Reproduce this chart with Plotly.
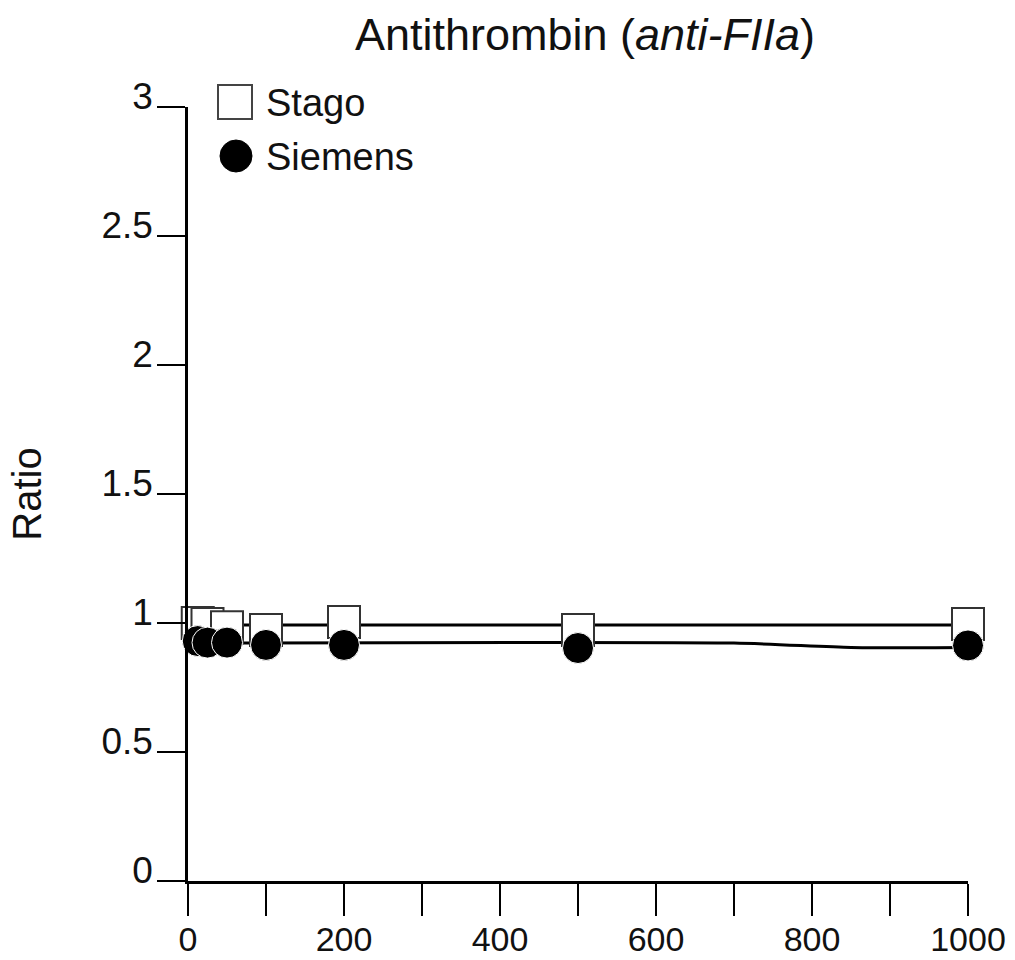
import plotly.graph_objects as go

# ---- data ----
stago_x = [12.5, 25, 50, 100, 200, 500, 1000]
stago_y = [1.00, 0.996, 0.984, 0.973, 1.004, 0.973, 0.996]
siemens_x = [12.5, 25, 50, 100, 200, 500, 1000]
siemens_y = [0.93, 0.924, 0.924, 0.915, 0.915, 0.903, 0.913]

stago_fit_x = [0, 1000]
stago_fit_y = [0.992, 0.992]
siemens_fit_x = [0, 700, 850, 1000]
siemens_fit_y = [0.922, 0.922, 0.905, 0.905]

x_tick_vals = [0, 100, 200, 300, 400, 500, 600, 700, 800, 900, 1000]
x_tick_text = ["0", "", "200", "", "400", "", "600", "", "800", "", "1000"]
y_tick_vals = [0, 0.5, 1, 1.5, 2, 2.5, 3]
y_tick_text = ["0", "0.5", "1", "1.5", "2", "2.5", "3"]

series_names = ["Stago", "Siemens"]
title_html = "Antithrombin (<i>anti-FIIa</i>)"
y_title = "Ratio"

# ---- layout geometry (pixels) ----
W, H = 1015, 960
L, R, T, B = 188, 47, 107, 79
PW, PH = W - L - R, H - T - B

def px(xp):
    return (xp - L) / PW

def py(yp):
    return (H - B - yp) / PH

FONT = "Liberation Sans, Arial, sans-serif"

fig = go.Figure()

fig.add_trace(go.Scatter(x=stago_fit_x, y=stago_fit_y, mode="lines",
                         line=dict(color="black", width=3), showlegend=False,
                         hoverinfo="skip"))
fig.add_trace(go.Scatter(x=siemens_fit_x, y=siemens_fit_y, mode="lines",
                         line=dict(color="black", width=3, shape="spline", smoothing=0.6),
                         showlegend=False, hoverinfo="skip"))
fig.add_trace(go.Scatter(x=stago_x, y=stago_y, mode="markers", name=series_names[0],
                         marker=dict(symbol="square", size=32, color="white",
                                     line=dict(color="#333333", width=2)),
                         cliponaxis=False, showlegend=False))
fig.add_trace(go.Scatter(x=siemens_x, y=siemens_y, mode="markers", name=series_names[1],
                         marker=dict(symbol="circle", size=31, color="black",
                                     line=dict(color="white", width=1)),
                         cliponaxis=False, showlegend=False))

# custom legend (large symbols like the reference)
fig.add_shape(type="rect", xref="paper", yref="paper",
              x0=px(218), x1=px(252), y0=py(119), y1=py(85),
              line=dict(color="#444444", width=2), fillcolor="white")
fig.add_shape(type="circle", xref="paper", yref="paper",
              x0=px(220), x1=px(252), y0=py(172), y1=py(140),
              line=dict(color="black", width=1), fillcolor="black")
fig.add_annotation(x=px(264), y=py(103), xref="paper", yref="paper",
                   text=series_names[0], showarrow=False, xanchor="left", yanchor="middle",
                   font=dict(family=FONT, size=38, color="#111111"))
fig.add_annotation(x=px(264), y=py(157), xref="paper", yref="paper",
                   text=series_names[1], showarrow=False, xanchor="left", yanchor="middle",
                   font=dict(family=FONT, size=38, color="#111111"))

fig.update_layout(
    width=W, height=H,
    margin=dict(l=L, r=R, t=T, b=B, pad=0, autoexpand=False),
    paper_bgcolor="white", plot_bgcolor="white",
    title=dict(text=title_html, x=px(585), xanchor="center", xref="paper",
               y=1 - 34 / H, yref="container", yanchor="middle",
               font=dict(family=FONT, size=45, color="#111111")),
    showlegend=False,
    font=dict(family=FONT, color="#111111"),
)

fig.update_xaxes(range=[0, 1000], tickmode="array", tickvals=x_tick_vals, ticktext=x_tick_text,
                 ticks="outside", ticklen=32, tickwidth=2, tickcolor="black",
                 showline=True, linecolor="black", linewidth=2.5,
                 showgrid=False, zeroline=False, automargin=False,
                 ticklabelstandoff=-6,
                 tickfont=dict(family=FONT, size=34, color="#111111"))
fig.update_yaxes(range=[0, 3], tickmode="array", tickvals=y_tick_vals, ticktext=y_tick_text,
                 ticks="outside", ticklen=28, tickwidth=2, tickcolor="black",
                 showline=True, linecolor="black", linewidth=2.5,
                 showgrid=False, zeroline=False, automargin=False,
                 ticklabelshift=-11, ticklabelstandoff=-3,
                 tickfont=dict(family=FONT, size=37, color="#111111"),
                 title=dict(text=y_title, standoff=48,
                            font=dict(family=FONT, size=40, color="#111111")))

fig.write_html("out.html")
